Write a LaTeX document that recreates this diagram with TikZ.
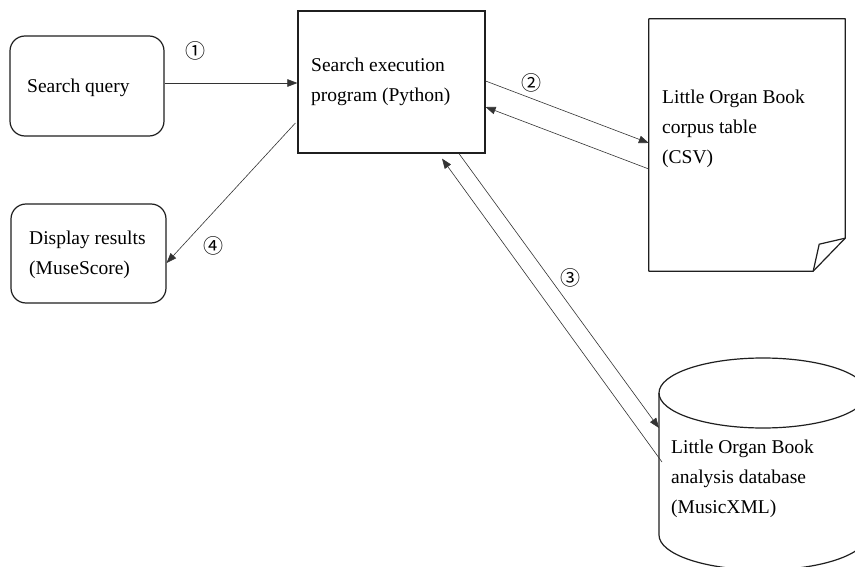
\documentclass[tikz,border=0pt]{standalone}
\usepackage{fontspec}
\setmainfont{Liberation Serif}
\newfontfamily\circfont{Noto Sans CJK JP}
\usetikzlibrary{arrows.meta}

\begin{document}
\begin{tikzpicture}[x=1pt,y=-1pt,
  box/.style={draw=black!88,line width=1.2pt,inner sep=0pt},
  roundbox/.style={box,rounded corners=15pt},
  % multi-line labels are placed by the baseline of their last line
  txt/.style={anchor=base west,inner sep=0pt,align=left,font=\fontsize{19.5}{30}\selectfont},
  num/.style={inner sep=0pt,font=\circfont\fontsize{20}{20}\selectfont},
  flow/.style={draw=black!80,line width=0.6pt,-{Triangle[length=10pt,width=7.5pt]}},
]
\useasboundingbox[fill=white] (0,0) rectangle (855,567);

% search query and result display
\node[roundbox,minimum width=154pt,minimum height=100pt] (query) at (87,86) {};
\node[txt] (querytxt) at (27,93) {Search query};
\node[roundbox,minimum width=155pt,minimum height=99pt] (display) at (88.5,253.5) {};
\node[txt] (displaytxt) at (29,274) {Display results\\(MuseScore)};

% search program
\node[box,minimum width=187pt,minimum height=142pt] (exec) at (391.5,82) {};
\node[txt] (exectxt) at (311,102) {Search execution\\program (Python)};

% corpus table document with folded corner
\node[minimum width=196pt,minimum height=252pt,inner sep=0pt] (csv) at (747,145) {};
\draw[line width=1.2pt,draw=black!88,line join=round]
  (csv.north west) -- (csv.north east) -- ([yshift=33pt]csv.south east)
  -- ([xshift=-32pt]csv.south east) -- (csv.south west) -- cycle;
\draw[line width=1.2pt,draw=black!88,line join=round]
  ([xshift=-32pt]csv.south east) -- ([xshift=-26pt,yshift=27pt]csv.south east)
  -- ([yshift=33pt]csv.south east);
\node[txt] (csvtxt) at (662,164) {Little Organ Book\\corpus table\\(CSV)};

% analysis database cylinder
\coordinate (db) at (659,428);
\draw[line width=1.2pt,draw=black!88] (763,393) ellipse [x radius=104pt,y radius=35pt];
\draw[line width=1.2pt,draw=black!88] (659,393) -- (659,535)
  arc[start angle=180,end angle=360,x radius=104pt,y radius=35pt] -- (867,393);
\node[txt] (dbtxt) at (671,513) {Little Organ Book\\analysis database\\(MusicXML)};

% connectors
\draw[flow] ([yshift=3pt]query.east) -- ([yshift=3pt]query.east -| exec.west);
\draw[flow] ([yshift=1pt]exec.east) -- ([yshift=2pt]csv.west);
\draw[flow] ([yshift=-24pt]csv.west) -- ([yshift=-25pt]exec.east);
\draw[flow] ([xshift=-2pt,yshift=-41pt]exec.west) -- ([yshift=-9.5pt]display.east);
\draw[flow] ([xshift=67.5pt]exec.south) -- (db);
\draw[flow] ([xshift=3pt,yshift=-34pt]db) -- ([xshift=50.5pt,yshift=-5pt]exec.south);

% step numbers
\node[num] (n1) at (195,51) {①};
\node[num] (n2) at (531,83) {②};
\node[num] (n3) at (570,278) {③};
\node[num] (n4) at (213,246) {④};
\end{tikzpicture}
\end{document}
